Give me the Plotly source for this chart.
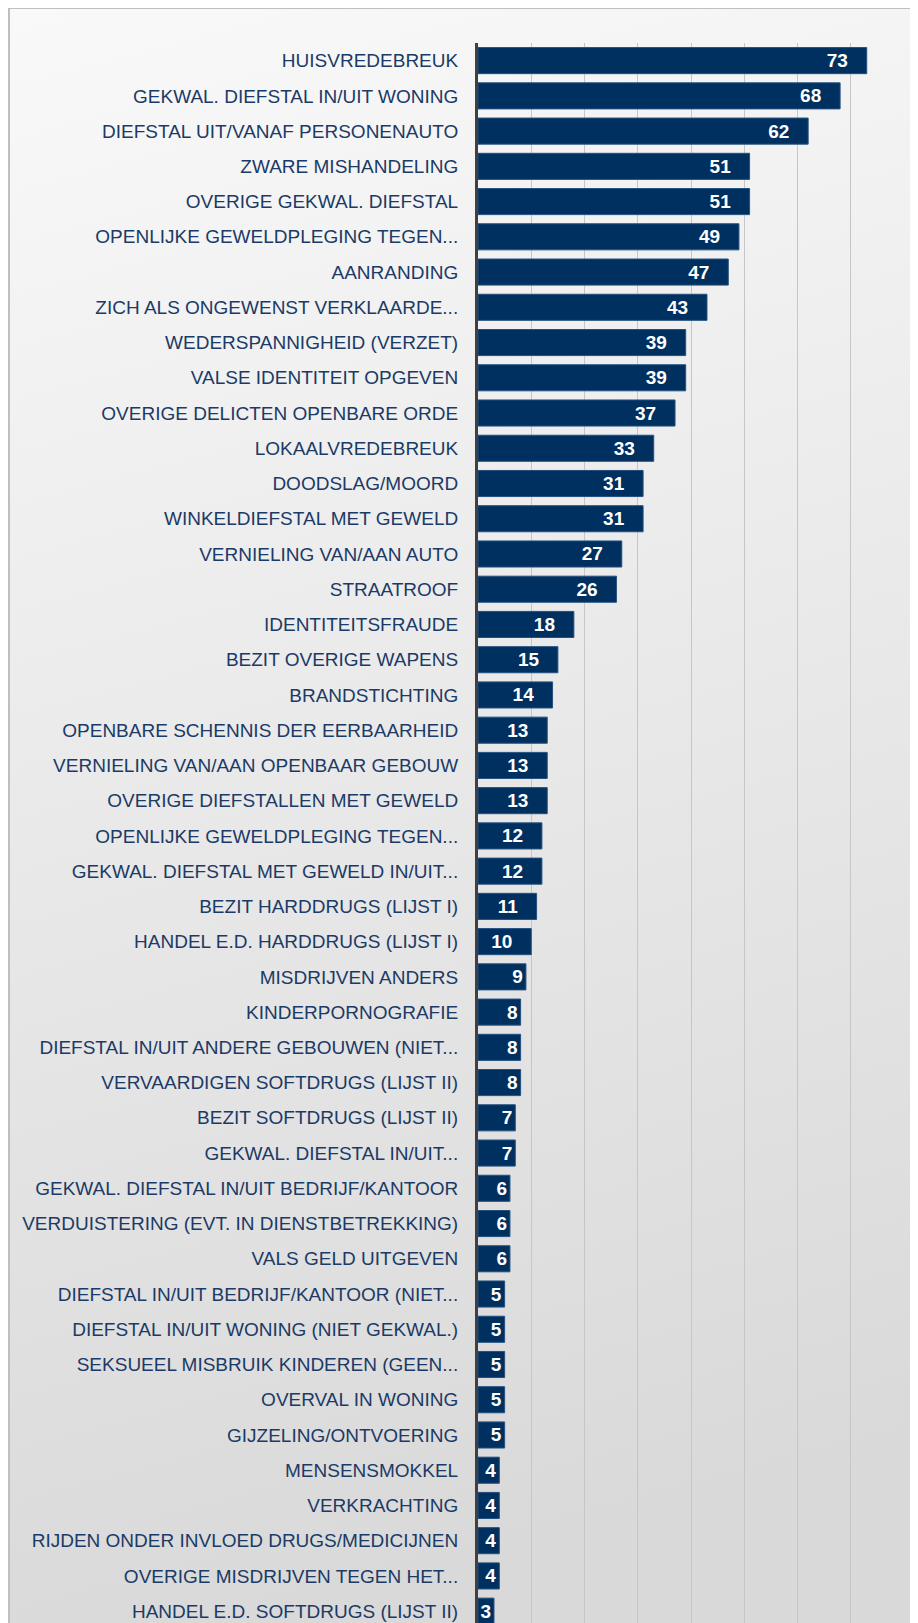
import base64
import plotly.graph_objects as go

# ── Data (top to bottom, as in the chart) ─────────────────────────────────────
categories = [
    "HUISVREDEBREUK",
    "GEKWAL. DIEFSTAL IN/UIT WONING",
    "DIEFSTAL UIT/VANAF PERSONENAUTO",
    "ZWARE MISHANDELING",
    "OVERIGE GEKWAL. DIEFSTAL",
    "OPENLIJKE GEWELDPLEGING TEGEN...",
    "AANRANDING",
    "ZICH ALS ONGEWENST VERKLAARDE...",
    "WEDERSPANNIGHEID (VERZET)",
    "VALSE IDENTITEIT OPGEVEN",
    "OVERIGE DELICTEN OPENBARE ORDE",
    "LOKAALVREDEBREUK",
    "DOODSLAG/MOORD",
    "WINKELDIEFSTAL MET GEWELD",
    "VERNIELING VAN/AAN AUTO",
    "STRAATROOF",
    "IDENTITEITSFRAUDE",
    "BEZIT OVERIGE WAPENS",
    "BRANDSTICHTING",
    "OPENBARE SCHENNIS DER EERBAARHEID",
    "VERNIELING VAN/AAN OPENBAAR GEBOUW",
    "OVERIGE DIEFSTALLEN MET GEWELD",
    "OPENLIJKE GEWELDPLEGING TEGEN...",
    "GEKWAL. DIEFSTAL MET GEWELD IN/UIT...",
    "BEZIT HARDDRUGS (LIJST I)",
    "HANDEL E.D. HARDDRUGS (LIJST I)",
    "MISDRIJVEN ANDERS",
    "KINDERPORNOGRAFIE",
    "DIEFSTAL IN/UIT ANDERE GEBOUWEN (NIET...",
    "VERVAARDIGEN SOFTDRUGS (LIJST II)",
    "BEZIT SOFTDRUGS (LIJST II)",
    "GEKWAL. DIEFSTAL IN/UIT...",
    "GEKWAL. DIEFSTAL IN/UIT BEDRIJF/KANTOOR",
    "VERDUISTERING (EVT. IN DIENSTBETREKKING)",
    "VALS GELD UITGEVEN",
    "DIEFSTAL IN/UIT BEDRIJF/KANTOOR (NIET...",
    "DIEFSTAL IN/UIT WONING (NIET GEKWAL.)",
    "SEKSUEEL MISBRUIK KINDEREN (GEEN...",
    "OVERVAL IN WONING",
    "GIJZELING/ONTVOERING",
    "MENSENSMOKKEL",
    "VERKRACHTING",
    "RIJDEN ONDER INVLOED DRUGS/MEDICIJNEN",
    "OVERIGE MISDRIJVEN TEGEN HET...",
    "HANDEL E.D. SOFTDRUGS (LIJST II)",
]
counts = [
    73, 68, 62, 51, 51, 49, 47, 43, 39, 39, 37, 33, 31, 31, 27, 26, 18, 15,
    14, 13, 13, 13, 12, 12, 11, 10, 9, 8, 8, 8, 7, 7, 6, 6, 6, 5, 5, 5, 5, 5,
    4, 4, 4, 4, 3,
]

# ── Layout constants (px, figure coords; the page adds an 8px body margin) ───
W, H = 918, 1623
M_L, M_R, M_T, M_B = 470, 22, 35, 0
PW, PH = W - M_L - M_R, H - M_T - M_B
ROW = 35.24                      # px per category row
NAVY = "#00305f"
LABEL = "#1b3a66"

def fx(px):
    return (px - M_L) / PW

def fy(py):
    return 1 - (py - M_T) / PH

positions = list(range(len(categories)))
# Excel "inside end" labels: extra padding on two-digit values
bar_text = [f"{v}" + "\u00a0" * 3 if v >= 10 else f"{v}" for v in counts]

fig = go.Figure(go.Bar(
    x=counts, y=positions, orientation="h",
    marker=dict(color=NAVY, line=dict(color="#24507f", width=1)),
    text=bar_text, textposition="inside", insidetextanchor="end",
    constraintext="none", textangle=0,
    textfont=dict(family="Liberation Sans", size=19, color="white", weight="bold"),
    width=0.74, hoverinfo="x+y",
))

# Grey vertical gradient behind everything, with a thin frame
svg = (
    '<svg xmlns="http://www.w3.org/2000/svg" width="100" height="100" '
    'viewBox="0 0 100 100" preserveAspectRatio="none">'
    '<defs><linearGradient id="g" x1="0" y1="0" x2="0.15" y2="1">'
    '<stop offset="0" stop-color="#f9f9f9"/>'
    '<stop offset="1" stop-color="#d9d9d9"/></linearGradient></defs>'
    '<rect width="100" height="100" fill="url(#g)"/></svg>'
)
uri = "data:image/svg+xml;base64," + base64.b64encode(svg.encode()).decode()
fig.add_layout_image(
    source=uri, xref="paper", yref="paper",
    x=fx(0), y=fy(0), sizex=(W + 20) / PW, sizey=(H + 20) / PH,
    xanchor="left", yanchor="top", sizing="stretch", layer="below",
)
fig.add_shape(
    type="rect", xref="paper", yref="paper",
    x0=fx(1), x1=fx(W + 20), y0=fy(H + 20), y1=fy(0),
    line=dict(color="#bfbfbf", width=2), fillcolor="rgba(0,0,0,0)",
    layer="above",
)

fig.update_yaxes(
    tickvals=positions, ticktext=categories,
    range=[-0.5 + PH / ROW, -0.5],
    showgrid=False, zeroline=False,
    showline=True, linecolor="#404040", linewidth=3,
    ticks="", ticklabelstandoff=13,
    tickfont=dict(family="Liberation Sans", size=19, color=LABEL),
)
fig.update_xaxes(
    range=[0, 80], dtick=10, showticklabels=False,
    showgrid=True, gridcolor="#c6c6c6", gridwidth=1,
    zeroline=False, showline=False, ticks="",
)
fig.update_layout(
    width=W, height=H,
    margin=dict(l=M_L, r=M_R, t=M_T, b=M_B, autoexpand=False),
    paper_bgcolor="white", plot_bgcolor="rgba(0,0,0,0)",
    showlegend=False, bargap=0.26,
)

fig.write_html("out.html")
